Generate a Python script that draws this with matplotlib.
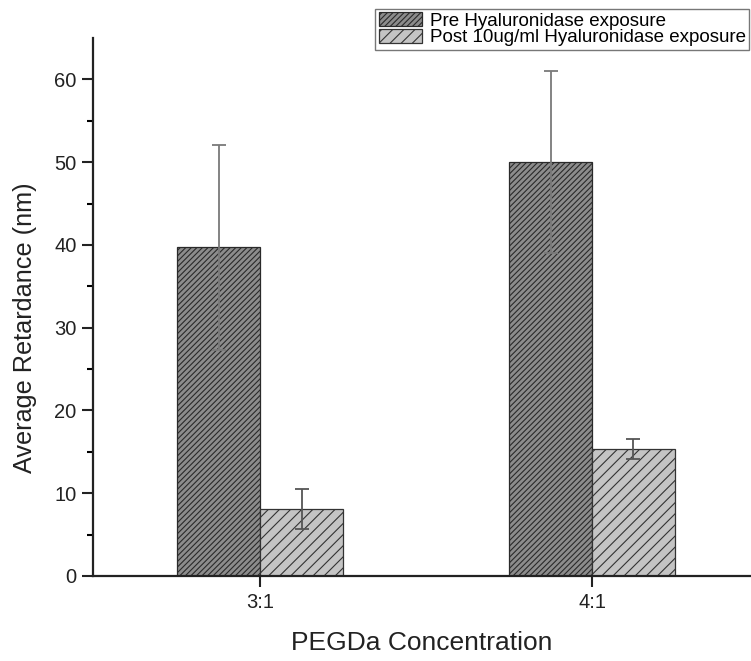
import matplotlib
matplotlib.use("Agg")
import matplotlib.pyplot as plt
import numpy as np

plt.rcParams['font.family'] = ['Liberation Sans', 'DejaVu Sans']
plt.rcParams['hatch.linewidth'] = 0.8

categories = ["3:1", "4:1"]
series_names = ["Pre Hyaluronidase exposure", "Post 10ug/ml Hyaluronidase exposure"]
pre_values = [39.7, 50.0]
pre_err = [12.4, 11.0]
post_values = [8.1, 15.3]
post_err = [2.4, 1.2]

fig = plt.figure(figsize=(7.51, 6.61), dpi=100)
ax = fig.add_axes([0.124, 0.1286, 0.876, 0.8139])

x = np.arange(len(categories))
w = 0.25
ax.bar(x - w/2, pre_values, w, color='#8c8c8c', edgecolor='#2a2a2a', hatch='//////',
       linewidth=0.9, label=series_names[0], zorder=2)
ax.bar(x + w/2, post_values, w, color='#c4c4c4', edgecolor='#333333', hatch='///',
       linewidth=0.9, label=series_names[1], zorder=2)
ax.errorbar(x - w/2, pre_values, yerr=pre_err, fmt='none', ecolor='#7a7a7a',
            elinewidth=1.3, capsize=5, capthick=1.3, zorder=3)
ax.errorbar(x + w/2, post_values, yerr=post_err, fmt='none', ecolor='#555555',
            elinewidth=1.3, capsize=5, capthick=1.3, zorder=3)

ax.set_xlim(-0.503, 1.479)
ax.set_ylim(0, 65)
ax.set_xticks(x)
ax.set_xticklabels(categories)
ax.set_yticks(np.arange(0, 61, 10))
ax.set_yticks(np.arange(5, 61, 10), minor=True)
ax.tick_params(axis='both', which='major', direction='out', length=8, width=1.5,
               labelsize=14.5, colors='#222222', pad=4)
ax.tick_params(axis='y', which='minor', direction='out', length=4.5, width=1.5)
ax.spines['top'].set_visible(False)
ax.spines['right'].set_visible(False)
for s in ('left', 'bottom'):
    ax.spines[s].set_linewidth(1.6)
    ax.spines[s].set_color('#222222')

ax.set_ylabel("Average Retardance (nm)", fontsize=18.2, color='#222222')
ax.yaxis.set_label_coords(-0.085, 0.461)
ax.set_xlabel("PEGDa Concentration", fontsize=19, color='#222222', labelpad=14)

leg = fig.legend(loc='upper right', bbox_to_anchor=(0.998, 0.987), fontsize=13.5,
                 frameon=True, fancybox=False, edgecolor='#555555',
                 handlelength=2.3, handleheight=0.75, borderpad=0.2,
                 labelspacing=-0.05, handletextpad=0.4, borderaxespad=0)
leg.get_frame().set_linewidth(1.0)

fig.savefig("out.png", dpi=100)
